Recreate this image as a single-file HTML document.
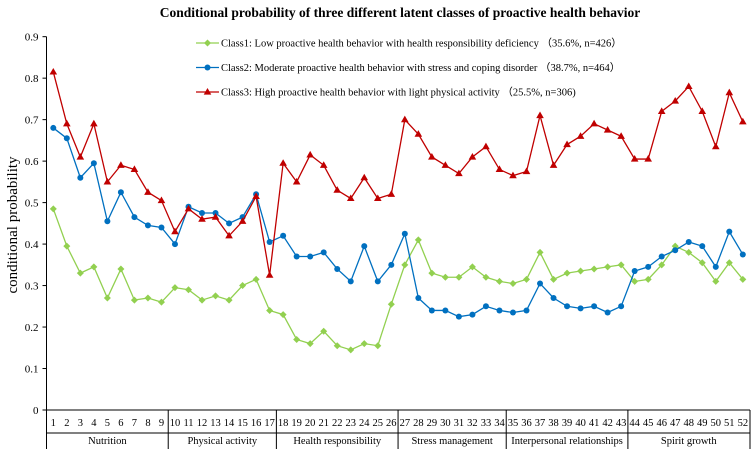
<!DOCTYPE html>
<html><head><meta charset="utf-8"><style>
body{margin:0;background:#fff}
svg{display:block;font-family:"Liberation Serif",serif}
</style></head><body>
<svg id="chart" width="753" height="449">
<text x="400" y="17" text-anchor="middle" font-size="13.5" font-weight="bold">Conditional probability of three different latent classes of proactive health behavior</text>
<text transform="translate(17,225) rotate(-90)" text-anchor="middle" font-size="15">conditional probability</text>
<g id="axes"></g><g id="series"></g><g id="legend"></g>
</svg>
<script>
const yTicks=[0,0.1,0.2,0.3,0.4,0.5,0.6,0.7,0.8,0.9];
const groups=["Nutrition","Physical activity","Health responsibility","Stress management","Interpersonal relationships","Spirit growth"];
const groupEnds=[9,17,26,34,43,52];
const class1=[.485,.395,.33,.345,.27,.34,.265,.27,.26,.295,.29,.265,.275,.265,.30,.315,.24,.23,.17,.16,.19,.155,.145,.16,.155,.255,.35,.41,.33,.32,.32,.345,.32,.31,.305,.315,.38,.315,.33,.335,.34,.345,.35,.31,.315,.35,.395,.38,.355,.31,.355,.315];
const class2=[.68,.655,.56,.595,.455,.525,.465,.445,.44,.40,.49,.475,.475,.45,.465,.52,.405,.42,.37,.37,.38,.34,.31,.395,.31,.35,.425,.27,.24,.24,.225,.23,.25,.24,.235,.24,.305,.27,.25,.245,.25,.235,.25,.335,.345,.37,.385,.405,.395,.345,.43,.375];
const class3=[.815,.69,.61,.69,.55,.59,.58,.525,.505,.43,.485,.46,.465,.42,.455,.515,.325,.595,.55,.615,.59,.53,.51,.56,.51,.52,.70,.665,.61,.59,.57,.61,.635,.58,.565,.575,.71,.59,.64,.66,.69,.675,.66,.605,.605,.72,.745,.78,.72,.635,.765,.695];
const legendLabels=["Class1: Low proactive health behavior with health responsibility deficiency \uFF0835.6%, n=426\uFF09","Class2: Moderate proactive health behavior with stress and coping disorder \uFF0838.7%, n=464\uFF09","Class3: High proactive health behavior with light physical activity \uFF0825.5%, n=306)"];
const NS="http://www.w3.org/2000/svg";
const x0=46.5,x1=750;
const xs=i=>53.3+(i-1)*13.52;
const ys=v=>410-v*414.8;
function mk(tag,attrs,parent){const e=document.createElementNS(NS,tag);for(const k in attrs)e.setAttribute(k,attrs[k]);parent.appendChild(e);return e;}
const ax=document.getElementById('axes');
let l=mk('line',{x1:x0,y1:ys(0.9),x2:x0,y2:410,stroke:'#000'},ax);


yTicks.forEach(t=>{
 const tk=mk('line',{x1:x0-4,x2:x0,y1:ys(t),y2:ys(t),stroke:'#000'},ax);
 
 
 const tx=mk('text',{x:x0-8,y:ys(t)+4,'text-anchor':'end','font-size':11},ax);
 tx.textContent=t===0?'0':String(t);
 
 
});
l=mk('line',{x1:x0,y1:410,x2:x1,y2:410,stroke:'#000'},ax);


l=mk('line',{x1:x0,y1:433,x2:x1,y2:433,stroke:'#000'},ax);


for(let i=1;i<=52;i++){
 const t=mk('text',{x:xs(i),y:426,'text-anchor':'middle','font-size':10.5},ax);
 t.textContent=i;
 
 
}
let start=1;
[x0].concat(groupEnds.map(e=>e===52?x1:(xs(e)+xs(e+1))/2)).forEach(x=>{
 const s=mk('line',{x1:x,x2:x,y1:410,y2:449,stroke:'#000'},ax);
 
 
});
groups.forEach((g,k)=>{
 const e=groupEnds[k];
 const t=mk('text',{x:(xs(start)+xs(e))/2,y:444,'text-anchor':'middle','font-size':10.5},ax);
 t.textContent=g;
 
 
 start=e+1;
});
const sg=document.getElementById('series');
const cols=['#92d050','#0070c0','#c00000'];
const lg=document.getElementById('legend');
function marker(type,x,y,c,p){
 let m;
 if(type===0)m=mk('polygon',{points:`${x},${y-3.5} ${x+3.5},${y} ${x},${y+3.5} ${x-3.5},${y}`,fill:c},p);
 else if(type===1)m=mk('circle',{cx:x,cy:y,r:3,fill:c},p);
 else m=mk('polygon',{points:`${x},${y-4} ${x+3.8},${y+2.6} ${x-3.8},${y+2.6}`,fill:c},p);
 return m;
}
[class1,class2,class3].forEach((d,k)=>{
 const g=mk('g',{},sg);
 
 
 const pl=mk('polyline',{points:d.map((v,i)=>xs(i+1)+','+ys(v)).join(' '),fill:'none',stroke:cols[k],'stroke-width':1.3},g);
 
 
 d.forEach((v,i)=>{
  const m=marker(k,xs(i+1),ys(v),cols[k],g);
  
  
 });
 const ly=43+k*24.5;
 const le=mk('g',{},lg);
 
 
 mk('line',{x1:196,x2:219,y1:ly,y2:ly,stroke:cols[k],'stroke-width':1.3},le);
 marker(k,207.5,ly,cols[k],le);
 const t=mk('text',{x:221,y:ly+3.5,'font-size':10.5},le);
 t.textContent=legendLabels[k];
});
</script>
</body></html>
